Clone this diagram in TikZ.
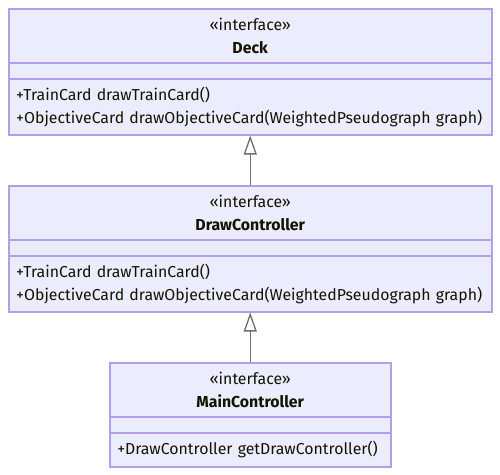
\documentclass[tikz,border=0pt]{standalone}
\usepackage{fontspec}
\setmainfont{Fira Sans}
\usetikzlibrary{arrows.meta}
\definecolor{umlfill}{HTML}{ECECFF}
\definecolor{umlborder}{HTML}{B39FE6}
\definecolor{umlline}{HTML}{6E6E6E}
\definecolor{umltext}{HTML}{131300}
\tikzset{
  part/.style={draw=umlborder, fill=umlfill, line width=1.5pt, anchor=north west,
    inner sep=0pt, text=umltext, font=\fontsize{15.85}{23}\selectfont},
  headpart/.style={part, align=center},
  oppart/.style={part, align=left, inner xsep=7.5pt},
  inherit/.style={draw=umlline, line width=1.3pt, -{Triangle[open, length=19pt, width=13pt]}}
}
\begin{document}
\begin{tikzpicture}[x=1pt, y=-1pt]
	\useasboundingbox (0,0) rectangle (500,474);
	
	%% Deck
	\node[headpart, minimum width=483pt, minimum height=54pt] (deckhead) at (8,8) {«interface»\\\textbf{Deck}};
	\node[part, minimum width=483pt, minimum height=16pt] (deckattr) at (8,62) {};
	\node[oppart, minimum width=483pt, minimum height=56pt, text width=468pt] (deckops) at (8,78) {+TrainCard drawTrainCard()\\+ObjectiveCard drawObjectiveCard(WeightedPseudograph graph)};
	
	%% DrawController
	\node[headpart, minimum width=483pt, minimum height=54pt] (drawhead) at (8,185) {«interface»\\\textbf{DrawController}};
	\node[part, minimum width=483pt, minimum height=16pt] (drawattr) at (8,239) {};
	\node[oppart, minimum width=483pt, minimum height=56pt, text width=468pt] (drawops) at (8,255) {+TrainCard drawTrainCard()\\+ObjectiveCard drawObjectiveCard(WeightedPseudograph graph)};
	
	%% MainController
	\node[headpart, minimum width=281pt, minimum height=54pt] (mainhead) at (109,362) {«interface»\\\textbf{MainController}};
	\node[part, minimum width=281pt, minimum height=16pt] (mainattr) at (109,416) {};
	\node[oppart, minimum width=281pt, minimum height=34pt, text width=266pt] (mainops) at (109,432) {+DrawController getDrawController()};
	
	%% realization arrows
	\draw[inherit] (drawhead.north) -- (deckops.south);
	\draw[inherit] (mainhead.north) -- (drawops.south);
	
\end{tikzpicture}
\end{document}
